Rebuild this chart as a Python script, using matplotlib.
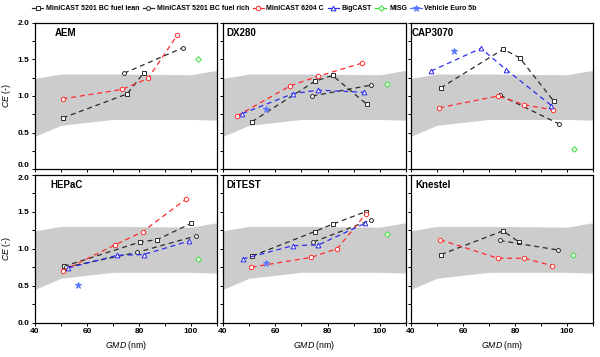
import matplotlib
matplotlib.use("Agg")
import matplotlib.pyplot as plt
from matplotlib.lines import Line2D
from matplotlib.ticker import MultipleLocator

plt.rcParams['font.family'] = ['Liberation Sans', 'DejaVu Sans']
plt.rcParams['mathtext.fontset'] = 'custom'
plt.rcParams['mathtext.it'] = 'Liberation Sans:italic'
plt.rcParams['mathtext.rm'] = 'Liberation Sans'

# ---------------- data ----------------
PANELS = ["AEM", "DX280", "CAP3070", "HEPaC", "DiTEST", "Knestel"]

# grey reference band
BAND_X = [40, 50, 70, 100, 110]
BAND_LO = [0.45, 0.60, 0.68, 0.68, 0.67]
BAND_HI = [1.24, 1.30, 1.30, 1.29, 1.35]

# AEM
AEM_LEAN_X = [50.6, 75.5, 81.9];            AEM_LEAN_Y = [0.70, 1.03, 1.32]
AEM_RICH_X = [74.2, 97.0];                  AEM_RICH_Y = [1.31, 1.66]
AEM_C_X = [50.6, 73.5, 83.5, 94.7];         AEM_C_Y = [0.96, 1.09, 1.24, 1.83]
AEM_MISG_X = [102.7];                       AEM_MISG_Y = [1.50]

# DX280
DX_LEAN_X = [51.1, 75.1, 81.9, 94.9];       DX_LEAN_Y = [0.65, 1.20, 1.28, 0.89]
DX_RICH_X = [74.2, 96.8];                   DX_RICH_Y = [1.00, 1.15]
DX_C_X = [45.4, 65.8, 76.4, 93.3];          DX_C_Y = [0.73, 1.14, 1.27, 1.45]
DX_BIG_X = [47.4, 66.6, 76.4, 94.0];        DX_BIG_Y = [0.76, 1.03, 1.08, 1.05]
DX_EURO_X = [56.3];                         DX_EURO_Y = [0.82]
DX_MISG_X = [102.6];                        DX_MISG_Y = [1.16]

# CAP3070
CAP_LEAN_X = [51.4, 75.5, 81.8, 94.9];      CAP_LEAN_Y = [1.11, 1.64, 1.52, 0.93]
CAP_RICH_X = [74.3, 96.9];                  CAP_RICH_Y = [1.01, 0.62]
CAP_C_X = [50.9, 73.5, 83.5, 94.7];         CAP_C_Y = [0.84, 1.00, 0.88, 0.81]
CAP_BIG_X = [47.7, 66.9, 76.6, 94.0];       CAP_BIG_Y = [1.34, 1.65, 1.36, 0.87]
CAP_EURO_X = [56.6];                        CAP_EURO_Y = [1.62]
CAP_MISG_X = [102.5];                       CAP_MISG_Y = [0.28]

# HEPaC
HEP_LEAN_X = [51.1, 80.5, 86.9, 100.0];     HEP_LEAN_Y = [0.76, 1.09, 1.12, 1.34]
HEP_RICH_X = [52.1, 79.3, 101.9];           HEP_RICH_Y = [0.75, 0.95, 1.17]
HEP_C_X = [50.6, 70.8, 81.5, 98.1];         HEP_C_Y = [0.70, 1.05, 1.23, 1.67]
HEP_BIG_X = [52.8, 71.7, 81.8, 99.1];       HEP_BIG_Y = [0.74, 0.91, 0.92, 1.10]
HEP_EURO_X = [56.7];                        HEP_EURO_Y = [0.51]
HEP_MISG_X = [102.7];                       HEP_MISG_Y = [0.86]

# DiTEST
DIT_LEAN_X = [51.2, 75.1, 81.9, 94.7];      DIT_LEAN_Y = [0.90, 1.23, 1.33, 1.50]
DIT_RICH_X = [74.6, 96.8];                  DIT_RICH_Y = [1.09, 1.39]
DIT_C_X = [50.9, 73.6, 83.7, 94.7];         DIT_C_Y = [0.75, 0.88, 1.00, 1.47]
DIT_BIG_X = [47.5, 66.8, 76.5, 94.3];       DIT_BIG_Y = [0.86, 1.04, 1.05, 1.34]
DIT_EURO_X = [56.6];                        DIT_EURO_Y = [0.80]
DIT_MISG_X = [102.6];                       DIT_MISG_Y = [1.20]

# Knestel
KN_LEAN_X = [51.5, 75.4, 81.5];             KN_LEAN_Y = [0.92, 1.24, 1.09]
KN_RICH_X = [74.1, 96.7];                   KN_RICH_Y = [1.11, 0.98]
KN_C_X = [51.2, 73.4, 83.4, 94.3];          KN_C_Y = [1.12, 0.87, 0.87, 0.77]
KN_MISG_X = [102.2];                        KN_MISG_Y = [0.92]

SERIES_NAMES = ["MiniCAST 5201 BC fuel lean", "MiniCAST 5201 BC fuel rich",
                "MiniCAST 6204 C", "BigCAST", "MISG", "Vehicle Euro 5b"]

PANEL_DATA = {
    "AEM": [(AEM_LEAN_X, AEM_LEAN_Y), (AEM_RICH_X, AEM_RICH_Y), (AEM_C_X, AEM_C_Y),
            None, (AEM_MISG_X, AEM_MISG_Y), None],
    "DX280": [(DX_LEAN_X, DX_LEAN_Y), (DX_RICH_X, DX_RICH_Y), (DX_C_X, DX_C_Y),
              (DX_BIG_X, DX_BIG_Y), (DX_MISG_X, DX_MISG_Y), (DX_EURO_X, DX_EURO_Y)],
    "CAP3070": [(CAP_LEAN_X, CAP_LEAN_Y), (CAP_RICH_X, CAP_RICH_Y), (CAP_C_X, CAP_C_Y),
                (CAP_BIG_X, CAP_BIG_Y), (CAP_MISG_X, CAP_MISG_Y), (CAP_EURO_X, CAP_EURO_Y)],
    "HEPaC": [(HEP_LEAN_X, HEP_LEAN_Y), (HEP_RICH_X, HEP_RICH_Y), (HEP_C_X, HEP_C_Y),
              (HEP_BIG_X, HEP_BIG_Y), (HEP_MISG_X, HEP_MISG_Y), (HEP_EURO_X, HEP_EURO_Y)],
    "DiTEST": [(DIT_LEAN_X, DIT_LEAN_Y), (DIT_RICH_X, DIT_RICH_Y), (DIT_C_X, DIT_C_Y),
               (DIT_BIG_X, DIT_BIG_Y), (DIT_MISG_X, DIT_MISG_Y), (DIT_EURO_X, DIT_EURO_Y)],
    "Knestel": [(KN_LEAN_X, KN_LEAN_Y), (KN_RICH_X, KN_RICH_Y), (KN_C_X, KN_C_Y),
                None, (KN_MISG_X, KN_MISG_Y), None],
}

# ---------------- styles ----------------
COLORS = ["#2b2b2b", "#2b2b2b", "#ff2b2b", "#2b2bf0", "#33e033", "#5a78ff"]
MARKERS = ["s", "o", "o", "^", "D", "*"]
MSIZES = [2.6, 2.8, 3.2, 3.4, 2.8, 4.8]
DASH = (0, (4.0, 3.0))

fig = plt.figure(figsize=(6.0, 3.57), dpi=100)
W, H = 600.0, 357.0
col_x = [(35, 217), (223, 406), (411, 593)]
row_y = [(22.7, 169.3), (174.5, 322.7)]
title_dx = [20, 3, 1, 15, 3, 4]

axes = []
for i, name in enumerate(PANELS):
    r, c = divmod(i, 3)
    x0, x1 = col_x[c]
    yt, yb = row_y[r]
    ax = fig.add_axes([x0 / W, 1 - yb / H, (x1 - x0) / W, (yb - yt) / H])
    axes.append(ax)
    ax.fill_between(BAND_X, BAND_LO, BAND_HI, color="#cccccc", lw=0, zorder=0)
    for k, s in enumerate(PANEL_DATA[name]):
        if s is None:
            continue
        xs, ys = s
        face = COLORS[k] if k == 5 else "white"
        ax.plot(xs, ys, linestyle=DASH, lw=0.9, color=COLORS[k], marker=MARKERS[k],
                ms=MSIZES[k], mfc=face, mec=COLORS[k], mew=0.7, zorder=3)
    ax.set_xlim(40, 110)
    ax.set_ylim(0, 2.0)
    ax.xaxis.set_major_locator(MultipleLocator(20))
    ax.xaxis.set_minor_locator(MultipleLocator(10))
    ax.yaxis.set_major_locator(MultipleLocator(0.5))
    ax.yaxis.set_minor_locator(MultipleLocator(0.25))
    ax.tick_params(which="both", direction="out", length=2.5, width=0.7,
                   labelsize=6, pad=1.5)
    for lab in ax.get_xticklabels() + ax.get_yticklabels():
        lab.set_fontweight("bold")
    for sp in ax.spines.values():
        sp.set_linewidth(0.9)
    if r == 0:
        ax.tick_params(labelbottom=False)
    else:
        ax.set_xlabel(r"$\mathit{GMD}$ (nm)", fontsize=6.3, labelpad=3)
    if c != 0:
        ax.tick_params(labelleft=False)
    else:
        ax.set_ylabel(r"$\mathit{CE}$ (-)", fontsize=6.3, labelpad=3)
        ax.set_yticks([0, 0.5, 1.0, 1.5, 2.0])
        labs = ax.set_yticklabels(["0.0", "0.5", "1.0", "1.5", "2.0"], fontweight="bold")
        if r == 0:
            labs[0].set_verticalalignment("bottom")
        else:
            labs[-1].set_verticalalignment("top")
    ax.text(title_dx[i] / (x1 - x0), 1 - 10 / (yb - yt), name, transform=ax.transAxes,
            fontsize=7, fontweight="bold", ha="left", va="center")

handles = [Line2D([], [], color=COLORS[k], lw=0.9, marker=MARKERS[k], ms=MSIZES[k],
                  mfc=(COLORS[k] if k == 5 else "white"), mec=COLORS[k], mew=0.7)
           for k in range(6)]
fig.legend(handles, SERIES_NAMES, loc="center left", bbox_to_anchor=(32 / W, 1 - 8.5 / H),
           ncol=6, frameon=False, prop={"size": 5.0, "weight": "bold"},
           handlelength=1.6, handletextpad=0.4, columnspacing=0.5, borderpad=0,
           borderaxespad=0)

fig.savefig("out.png", dpi=100)
